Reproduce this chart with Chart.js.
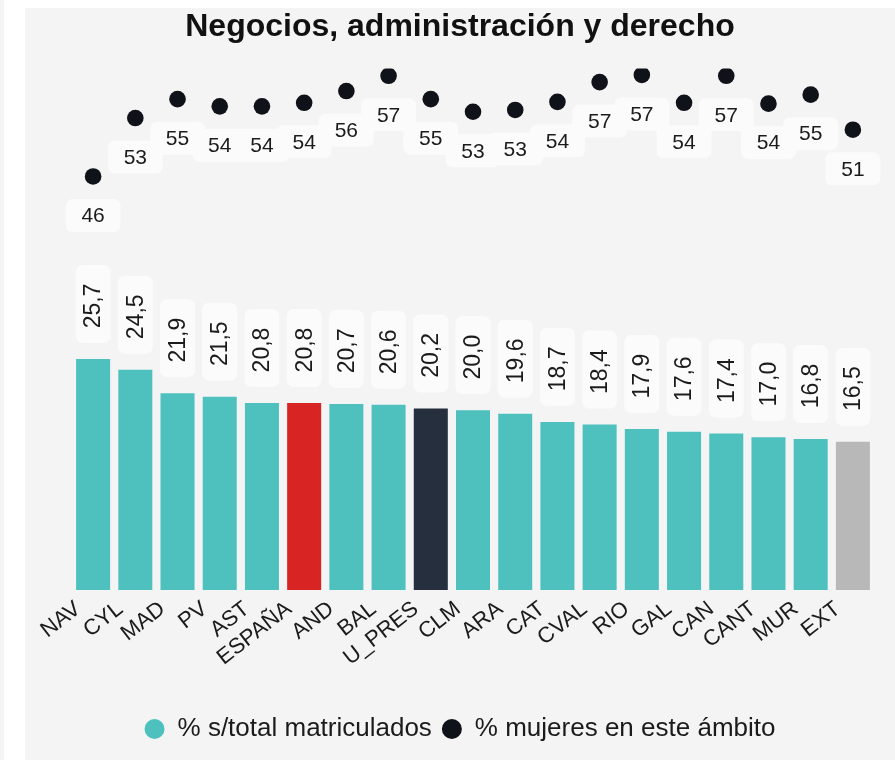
<!DOCTYPE html>
<html>
<head>
<meta charset="utf-8">
<script src="https://cdn.jsdelivr.net/npm/chart.js@4.4.1/dist/chart.umd.min.js"></script>
<style>
  html, body { margin: 0; padding: 0; background: #ffffff; }
  body { width: 895px; height: 760px; position: relative; overflow: hidden; }
  .strip { position: absolute; left: 0; top: 0; width: 4px; height: 760px; background: #f4f4f4; }
  .panel { position: absolute; left: 25px; top: 8px; width: 870px; height: 752px; background: #f4f4f4; }
</style>
</head>
<body>
<div class="strip"></div>
<div class="panel"><canvas id="chart" width="870" height="752"></canvas></div>
<script>
const categories = ['NAV', 'CYL', 'MAD', 'PV', 'AST', 'ESPAÑA', 'AND', 'BAL', 'U_PRES', 'CLM',
    'ARA', 'CAT', 'CVAL', 'RIO', 'GAL', 'CAN', 'CANT', 'MUR', 'EXT'];
const pctTotal = [25.7, 24.5, 21.9, 21.5, 20.8, 20.8, 20.7, 20.6, 20.2, 20.0,
    19.6, 18.7, 18.4, 17.9, 17.6, 17.4, 17.0, 16.8, 16.5];
const pctMujeres = [46.0, 52.5, 54.6, 53.8, 53.8, 54.2, 55.5, 57.2, 54.6, 53.2,
    53.4, 54.3, 56.5, 57.3, 54.2, 57.2, 54.1, 55.1, 51.2];

const FONT = "'Liberation Sans', Arial, sans-serif";
const TEAL = '#4ec1be';
const DOT = '#0f1218';

// highlighted regions get their own colour
const barColors = categories.map(c => {
    if (c === 'ESPAÑA') return '#d92424';
    if (c === 'U_PRES') return '#262f3e';
    if (c === 'EXT') return '#b8b8b8';
    return TEAL;
});

function roundBox(ctx, x, y, w, h, r) {
    ctx.beginPath();
    ctx.moveTo(x + r, y);
    ctx.arcTo(x + w, y, x + w, y + h, r);
    ctx.arcTo(x + w, y + h, x, y + h, r);
    ctx.arcTo(x, y + h, x, y, r);
    ctx.arcTo(x, y, x + w, y, r);
    ctx.closePath();
    ctx.fill();
}

// value labels in light boxes: vertical above bars, horizontal under dots
const valueLabels = {
    id: 'valueLabels',
    afterDatasetsDraw(chart) {
        const ctx = chart.ctx;
        ctx.save();
        ctx.textAlign = 'center';
        ctx.textBaseline = 'middle';

        const bars = chart.getDatasetMeta(0);
        bars.data.forEach((el, i) => {
            const bottom = el.y - 16;
            ctx.fillStyle = 'rgba(252,252,252,0.9)';
            roundBox(ctx, el.x - 17.5, bottom - 78, 35, 78, 7);
            ctx.save();
            ctx.translate(el.x, bottom - 37);
            ctx.rotate(-Math.PI / 2);
            ctx.fillStyle = '#1b1b1b';
            ctx.font = '23px ' + FONT;
            ctx.fillText(pctTotal[i].toFixed(1).replace('.', ','), 0, 1);
            ctx.restore();
        });

        const dots = chart.getDatasetMeta(1);
        dots.data.forEach((el) => {
            ctx.fillStyle = 'rgba(252,252,252,0.85)';
            roundBox(ctx, el.x - 27.5, el.y + 39 - 16.5, 55, 33, 7);
        });
        ctx.font = '21px ' + FONT;
        ctx.fillStyle = '#1b1b1b';
        dots.data.forEach((el, i) => {
            ctx.fillText(String(Math.round(pctMujeres[i])), el.x, el.y + 40);
        });
        ctx.restore();
    }
};

new Chart(document.getElementById('chart'), {
    type: 'bar',
    data: {
        labels: categories,
        datasets: [{
            label: '% s/total matriculados',
            data: pctTotal,
            backgroundColor: barColors,
            borderWidth: 0,
            categoryPercentage: 1,
            barPercentage: 0.806,
            order: 2
        }, {
            type: 'line',
            label: '% mujeres en este ámbito',
            data: pctMujeres,
            showLine: false,
            borderColor: DOT,
            backgroundColor: DOT,
            pointBackgroundColor: DOT,
            pointBorderWidth: 0,
            pointRadius: 8.3,
            pointHoverRadius: 8.3,
            order: 1
        }]
    },
    options: {
        responsive: false,
        animation: false,
        layout: { padding: { left: 21, right: 21, top: 0, bottom: 8 } },
        plugins: {
            title: {
                display: true,
                text: 'Negocios, administración y derecho',
                color: '#111111',
                font: { family: FONT, size: 32, weight: 'bold' },
                padding: { top: 0, bottom: 22.2 }
            },
            legend: {
                position: 'bottom',
                labels: {
                    usePointStyle: true,
                    pointStyleWidth: 20,
                    boxHeight: 14,
                    padding: 10,
                    color: '#1b1b1b',
                    font: { family: FONT, size: 26 },
                    sort: (a, b) => a.datasetIndex - b.datasetIndex
                }
            },
            tooltip: { enabled: false }
        },
        scales: {
            x: {
                grid: { display: false },
                border: { display: false },
                ticks: {
                    autoSkip: false,
                    minRotation: 38,
                    maxRotation: 38,
                    padding: -2,
                    labelOffset: -15,
                    color: '#1b1b1b',
                    font: { family: FONT, size: 22 }
                },
                afterFit: (scale) => { scale.height = 116; }
            },
            y: {
                min: 0,
                max: 58,
                grid: { display: false },
                border: { display: false },
                ticks: { display: false },
                afterFit: (scale) => { scale.width = 26; }
            }
        }
    },
    plugins: [valueLabels]
});
</script>
</body>
</html>
